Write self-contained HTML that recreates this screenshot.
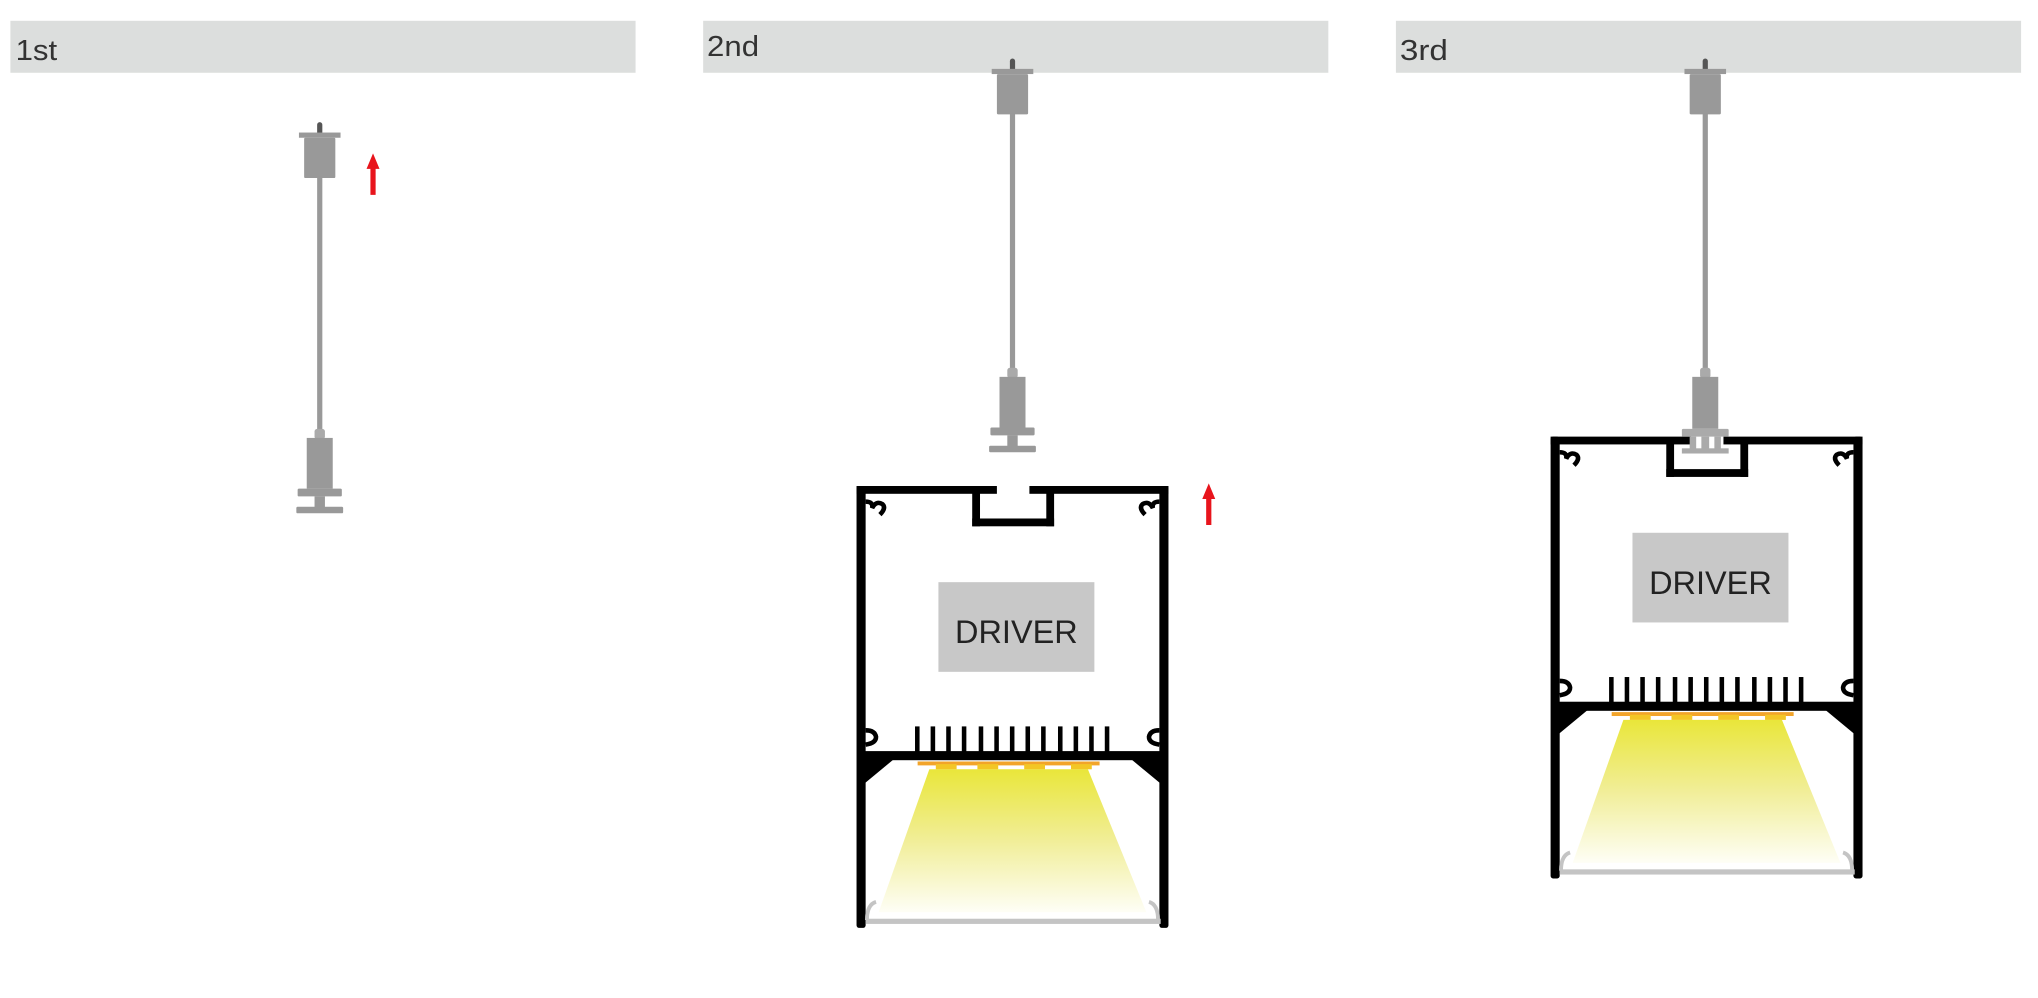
<!DOCTYPE html>
<html><head><meta charset="utf-8"><style>
html,body{margin:0;padding:0;background:#fff;}
svg{display:block;}
text{font-family:"Liberation Sans",sans-serif;}
</style></head><body>
<svg width="2038" height="998" viewBox="0 0 1568 768" preserveAspectRatio="none" xmlns="http://www.w3.org/2000/svg">
<defs>
<linearGradient id="lg" x1="0" y1="0" x2="0" y2="1">
<stop offset="0" stop-color="#e9e63a"/>
<stop offset="0.5" stop-color="#f1ee98"/>
<stop offset="1" stop-color="#fefef6"/>
</linearGradient>
<g id="pTop">
<rect x="-2" y="0" width="4" height="10" rx="2" fill="#555"/>
<rect x="-16" y="8" width="32" height="4" fill="#999"/>
<rect x="-12" y="12" width="24" height="31" rx="1" fill="#999"/>
</g>
<g id="pBot">
<rect x="-4" y="0" width="8" height="8" rx="2" fill="#aaa"/>
<rect x="-10" y="7" width="20" height="39" fill="#999"/>
<rect x="-17" y="46" width="34" height="6" rx="1" fill="#999"/>
<rect x="-4" y="52" width="8" height="9" fill="#999"/>
<rect x="-18" y="60" width="36" height="5" rx="1" fill="#999"/>
</g>
<g id="fix">
<polygon points="715,592 837,592 882,702 676,702" fill="url(#lg)"/>
<rect x="659" y="374" width="7" height="340" rx="2" fill="#000"/>
<rect x="892" y="374" width="7" height="340" rx="2" fill="#000"/>
<rect x="659" y="374" width="108" height="6" fill="#000"/>
<rect x="792" y="374" width="107" height="6" fill="#000"/>
<rect x="748" y="378" width="6" height="27" fill="#000"/>
<rect x="805" y="378" width="6" height="27" fill="#000"/>
<rect x="748" y="399" width="63" height="6" fill="#000"/>
<path d="M666 386 q6 0 5 5 q3 -6 8 -3 q3 3 -2 8" fill="none" stroke="#000" stroke-width="3.5"/>
<path d="M892 386 q-6 0 -5 5 q-3 -6 -8 -3 q-3 3 2 8" fill="none" stroke="#000" stroke-width="3.5"/>
<path d="M666 562 q7 0 8 5 q0 5 -8 6" fill="none" stroke="#000" stroke-width="3.5"/>
<path d="M892 562 q-7 0 -8 5 q0 5 8 6" fill="none" stroke="#000" stroke-width="3.5"/>
<rect x="665" y="578" width="228" height="7" fill="#000"/>
<polygon points="665,584 688,584 665,603" fill="#000"/>
<polygon points="893,584 870,584 893,603" fill="#000"/>
<g fill="#000">
<rect x="704" y="559" width="3.5" height="20"/><rect x="716" y="559" width="3.5" height="20"/><rect x="728" y="559" width="3.5" height="20"/><rect x="740" y="559" width="3.5" height="20"/><rect x="753" y="559" width="3.5" height="20"/><rect x="765" y="559" width="3.5" height="20"/><rect x="777" y="559" width="3.5" height="20"/><rect x="789" y="559" width="3.5" height="20"/><rect x="801" y="559" width="3.5" height="20"/><rect x="814" y="559" width="3.5" height="20"/><rect x="826" y="559" width="3.5" height="20"/><rect x="838" y="559" width="3.5" height="20"/><rect x="850" y="559" width="3.5" height="20"/>
</g>
<rect x="706" y="586" width="140" height="3" fill="#f2a42a"/>
<g fill="#f3c626"><rect x="720" y="588" width="16" height="4"/><rect x="752" y="588" width="16" height="4"/><rect x="788" y="588" width="16" height="4"/><rect x="824" y="588" width="16" height="4"/></g>
<rect x="666" y="707" width="227" height="4" fill="#c4c4c4"/>
<path d="M667 708 q0 -12 7 -14" fill="none" stroke="#c4c4c4" stroke-width="3"/>
<path d="M891 708 q0 -12 -7 -14" fill="none" stroke="#c4c4c4" stroke-width="3"/>
<rect x="722" y="448" width="120" height="69" fill="#c8c8c8"/>
<text x="782" y="495" font-size="25" fill="#222" text-anchor="middle">DRIVER</text>
</g>
<g id="arrow">
<polygon points="0,0 -5,12 -2,12 -2,32 2,32 2,12 5,12" fill="#e8141c"/>
</g>
</defs>
<rect x="8" y="16" width="481" height="40" fill="#dcdedd"/>
<rect x="541" y="16" width="481" height="40" fill="#dcdedd"/>
<rect x="1074" y="16" width="481" height="40" fill="#dcdedd"/>
<text x="12" y="46" font-size="22" fill="#333" textLength="32" lengthAdjust="spacingAndGlyphs">1st</text>
<text x="544" y="43" font-size="22" fill="#333" textLength="40" lengthAdjust="spacingAndGlyphs">2nd</text>
<text x="1077" y="46" font-size="22" fill="#333" textLength="37" lengthAdjust="spacingAndGlyphs">3rd</text>

<use href="#pTop" x="246" y="94"/>
<rect x="244" y="136" width="4" height="196" fill="#999"/>
<use href="#pBot" x="246" y="330"/>
<use href="#arrow" x="287" y="118"/>

<use href="#pTop" x="779" y="45"/>
<rect x="777" y="87" width="4" height="198" fill="#999"/>
<use href="#pBot" x="779" y="283"/>
<use href="#fix"/>
<use href="#arrow" x="930" y="372"/>

<use href="#pTop" x="1312" y="45"/>
<rect x="1310" y="87" width="4" height="198" fill="#999"/>
<use href="#fix" x="534" y="-38"/>
<g transform="translate(1312,283)">
<rect x="-4" y="0" width="8" height="8" rx="2" fill="#aaa"/>
<rect x="-10" y="7" width="20" height="40" fill="#999"/>
<rect x="-18" y="47" width="36" height="6" rx="1" fill="#aaa"/>
<rect x="-12" y="53" width="5" height="10" fill="#aaa"/>
<rect x="7" y="53" width="5" height="10" fill="#aaa"/>
<rect x="-3" y="53" width="6" height="10" fill="#aaa"/>
<rect x="-18" y="62" width="36" height="4" fill="#aaa"/>
</g>
</svg>
</body></html>
